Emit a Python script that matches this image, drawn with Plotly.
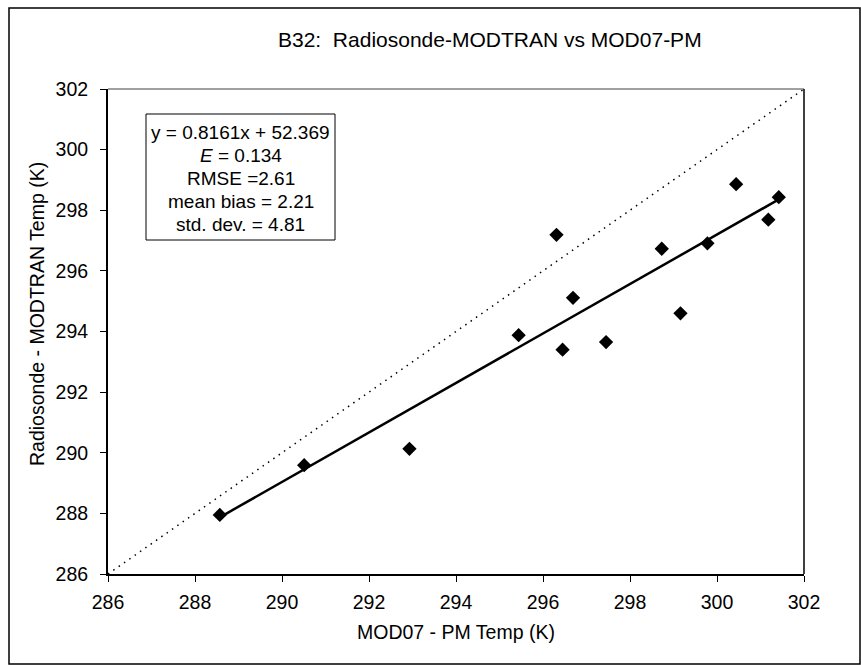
import plotly.graph_objects as go

# Data
mod07_pm = [288.57, 290.51, 292.93, 295.44, 296.31, 296.45, 296.69, 297.45,
            298.73, 299.16, 299.78, 300.44, 301.18, 301.42]
radiosonde_modtran = [287.95, 289.59, 290.13, 293.88, 297.19, 293.40, 295.11, 293.65,
                      296.73, 294.60, 296.91, 298.86, 297.69, 298.43]
slope = 0.8161
intercept = 52.369
one_to_one = [286, 302]
x_ticks = [286, 288, 290, 292, 294, 296, 298, 300, 302]
y_ticks = [286, 288, 290, 292, 294, 296, 298, 300, 302]
stats_lines = ["y = 0.8161x + 52.369", "<i>E</i> = 0.134", "RMSE =2.61",
               "mean bias = 2.21", "std. dev. = 4.81"]

FONT = "Liberation Sans, Arial, sans-serif"
W, H = 861, 665
L, R, T, B = 108, 57, 89, 91
pw, ph = W - L - R, H - T - B


def px(xp):
    return (xp - L) / pw


def py(yp):
    return (H - B - yp) / ph


fig = go.Figure()

# 1:1 line
fig.add_trace(go.Scatter(x=one_to_one, y=one_to_one, mode="lines",
                         line=dict(color="black", width=1.5, dash="1.5px,5px"),
                         showlegend=False, hoverinfo="skip"))

# trend line
tx = [min(mod07_pm), max(mod07_pm)]
ty = [slope * v + intercept for v in tx]
fig.add_trace(go.Scatter(x=tx, y=ty, mode="lines",
                         line=dict(color="black", width=2.5),
                         showlegend=False, hoverinfo="skip"))

# points
fig.add_trace(go.Scatter(x=mod07_pm, y=radiosonde_modtran, mode="markers",
                         marker=dict(symbol="diamond", size=11, color="black"),
                         showlegend=False))

axis_common = dict(
    showgrid=False, zeroline=False, showline=True, linecolor="black", linewidth=2,
    ticks="outside", ticklen=6, tickwidth=1, tickcolor="black",
    tickfont=dict(family=FONT, size=19.5, color="black"),
)

fig.update_xaxes(range=[286, 302], tickvals=x_ticks, ticklabelstandoff=4, **axis_common)
fig.update_yaxes(range=[286, 302], tickvals=y_ticks, ticklabelstandoff=8, **axis_common)

box_l, box_r, box_t, box_b = 146, 335, 114, 240
line_y = [132, 155, 178, 202, 224]

shapes = [
    dict(type="line", xref="paper", yref="paper", x0=0, x1=1, y0=1, y1=1,
         line=dict(color="#808080", width=1.5)),
    dict(type="line", xref="paper", yref="paper", x0=1, x1=1, y0=0, y1=1,
         line=dict(color="black", width=1.5)),
    dict(type="rect", xref="paper", yref="paper",
         x0=px(9), x1=px(860), y0=py(664), y1=py(8),
         line=dict(color="black", width=1.5)),
    dict(type="rect", xref="paper", yref="paper",
         x0=px(box_l), x1=px(box_r), y0=py(box_b), y1=py(box_t),
         line=dict(color="black", width=1), fillcolor="white", layer="above"),
]

annotations = [
    dict(text="B32:  Radiosonde-MODTRAN vs MOD07-PM", xref="paper", yref="paper",
         x=px(490), y=py(40), xanchor="center", yanchor="middle", showarrow=False,
         font=dict(family=FONT, size=21, color="black")),
    dict(text="MOD07 - PM Temp (K)", xref="paper", yref="paper",
         x=0.5, y=py(632), xanchor="center", yanchor="middle", showarrow=False,
         font=dict(family=FONT, size=19.5, color="black")),
    dict(text="Radiosonde - MODTRAN Temp (K)", xref="paper", yref="paper",
         x=px(37), y=py(314), xanchor="center", yanchor="middle", showarrow=False,
         textangle=-90, font=dict(family=FONT, size=19.5, color="black")),
]
for txt, yy in zip(stats_lines, line_y):
    annotations.append(dict(text=txt, xref="paper", yref="paper",
                            x=px((box_l + box_r) / 2), y=py(yy),
                            xanchor="center", yanchor="middle", showarrow=False,
                            font=dict(family=FONT, size=19, color="black")))

fig.update_layout(
    width=W, height=H, margin=dict(l=L, r=R, t=T, b=B),
    paper_bgcolor="white", plot_bgcolor="white",
    shapes=shapes, annotations=annotations, showlegend=False,
)

fig.write_html("out.html")
